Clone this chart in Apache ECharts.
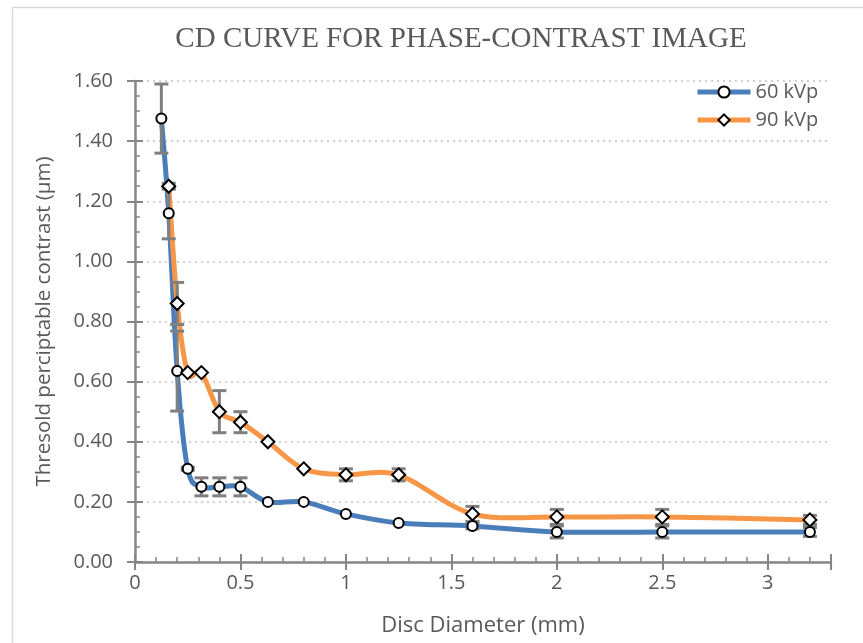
<!DOCTYPE html>
<html>
<head>
<meta charset="utf-8">
<script src="https://cdn.jsdelivr.net/npm/echarts@6/dist/echarts.min.js"></script>
<style>
  html, body { margin: 0; padding: 0; background: #fff; }
  #main { width: 863px; height: 643px; }
</style>
</head>
<body>
<div id="main"></div>
<script>
// disc diameter (mm) and threshold contrast
var diam60 = [0.125, 0.16, 0.2, 0.25, 0.315, 0.4, 0.5, 0.63, 0.8, 1.0, 1.25, 1.6, 2.0, 2.5, 3.2];
var val60  = [1.475, 1.16, 0.635, 0.31, 0.25, 0.25, 0.25, 0.20, 0.20, 0.16, 0.13, 0.12, 0.10, 0.10, 0.10];
var err60  = [0.115, 0.085, 0.133, 0.005, 0.03, 0.03, 0.03, 0, 0, 0, 0, 0.01, 0.02, 0.02, 0.015];

var diam90 = [0.16, 0.2, 0.25, 0.315, 0.4, 0.5, 0.63, 0.8, 1.0, 1.25, 1.6, 2.0, 2.5, 3.2];
var val90  = [1.25, 0.86, 0.63, 0.63, 0.50, 0.465, 0.40, 0.31, 0.29, 0.29, 0.16, 0.15, 0.15, 0.14];
var err90  = [0.01, 0.07, 0, 0, 0.07, 0.035, 0, 0, 0.02, 0.02, 0.025, 0.025, 0.025, 0.015];

var blue = '#4a7ebb', orange = '#f79646';

var myChart = echarts.init(document.getElementById('main'));

function pairs(xs, ys) {
    var res = [];
    for (var i = 0; i < xs.length; i++) res.push([xs[i], ys[i]]);
    return res;
}
function errRows(xs, ys, es) {
    var res = [];
    for (var i = 0; i < xs.length; i++) {
        if (es[i] > 0) res.push([xs[i], ys[i] - es[i], ys[i] + es[i]]);
    }
    return res;
}

var errData = errRows(diam60, val60, err60).concat(errRows(diam90, val90, err90));

function renderErr(params, api) {
    var lo = api.coord([api.value(0), api.value(1)]);
    var hi = api.coord([api.value(0), api.value(2)]);
    var half = 7;
    var st = { stroke: '#808080', lineWidth: 3 };
    return {
        type: 'group',
        children: [
            { type: 'line', shape: { x1: lo[0], y1: lo[1], x2: hi[0], y2: hi[1] }, style: st },
            { type: 'line', shape: { x1: lo[0] - half, y1: lo[1], x2: lo[0] + half, y2: lo[1] }, style: st },
            { type: 'line', shape: { x1: hi[0] - half, y1: hi[1], x2: hi[0] + half, y2: hi[1] }, style: st }
        ]
    };
}

// spreadsheet-style smoothed line: one bezier per segment, catmull-rom controls
function curveRenderer(xs, ys, color) {
    return function (params, api) {
        var i = params.dataIndex;
        var n = xs.length;
        if (i >= n - 1) return;
        var p = function (k) {
            k = Math.max(0, Math.min(n - 1, k));
            return api.coord([xs[k], ys[k]]);
        };
        var p0 = p(i - 1), p1 = p(i), p2 = p(i + 1), p3 = p(i + 2);
        var t = 1 / 6;
        return {
            type: 'bezierCurve',
            shape: {
                x1: p1[0], y1: p1[1], x2: p2[0], y2: p2[1],
                cpx1: p1[0] + (p2[0] - p0[0]) * t, cpy1: p1[1] + (p2[1] - p0[1]) * t,
                cpx2: p2[0] - (p3[0] - p1[0]) * t, cpy2: p2[1] - (p3[1] - p1[1]) * t
            },
            style: { stroke: color, lineWidth: 5, fill: null, lineCap: 'round' }
        };
    };
}

var axisGray = '#868686';
var textGray = '#595959';
var fontFam = '"Open Sans", sans-serif';

var option = {
    animation: false,
    graphic: [{
        type: 'rect',
        left: 10, top: 5,
        shape: { width: 880, height: 680 },
        style: { fill: 'none', stroke: '#d9d9d9', lineWidth: 1.5 },
        silent: true
    }],
    title: {
        text: 'CD CURVE FOR PHASE-CONTRAST IMAGE',
        left: 456, top: 20, textAlign: 'center',
        textStyle: { fontFamily: '"Liberation Serif", serif', fontWeight: 'normal', fontSize: 29, color: textGray }
    },
    legend: {
        top: 82, left: 695, padding: 0,
        orient: 'vertical',
        itemWidth: 53, itemHeight: 14, itemGap: 8,
        textStyle: { fontFamily: fontFam, fontSize: 20, color: textGray },
        data: [
            { name: '60 kVp', lineStyle: { color: blue, width: 5, opacity: 1 } },
            { name: '90 kVp', lineStyle: { color: orange, width: 5, opacity: 1 } }
        ]
    },
    grid: { left: 135, right: 32, top: 81, bottom: 81 },
    xAxis: [{
        type: 'value', min: 0, max: 3.3, interval: 0.5,
        name: 'Disc Diameter (mm)', nameLocation: 'middle', nameGap: 53,
        nameTextStyle: { fontFamily: fontFam, fontSize: 22, color: textGray },
        axisLine: { show: true, lineStyle: { color: axisGray, width: 2.5 } },
        axisTick: { show: true, inside: true, length: 8, lineStyle: { color: axisGray, width: 2 } },
        minorTick: { show: true, splitNumber: 5, length: 5, lineStyle: { color: axisGray, width: 1.5 } },
        axisLabel: {
            fontFamily: fontFam, fontSize: 20, color: textGray, margin: 11,
            showMaxLabel: false,
            formatter: function (v) { return String(v); }
        },
        splitLine: { show: false }
    }, {
        type: 'value', min: 0, max: 3.3, interval: 0.5, position: 'bottom',
        axisLine: { show: false },
        axisTick: { show: true, inside: false, length: 8, lineStyle: { color: axisGray, width: 2 } },
        axisLabel: { show: false },
        splitLine: { show: false }
    }],
    yAxis: [{
        type: 'value', min: 0, max: 1.6, interval: 0.2,
        name: 'Thresold perciptable contrast (µm)', nameLocation: 'middle', nameGap: 80,
        nameTextStyle: { fontFamily: fontFam, fontSize: 20.5, color: textGray },
        axisLine: { show: true, lineStyle: { color: axisGray, width: 2.5 } },
        axisTick: { show: true, inside: true, length: 8, lineStyle: { color: axisGray, width: 2 } },
        minorTick: { show: true, splitNumber: 4, length: 5, lineStyle: { color: axisGray, width: 1.5 } },
        axisLabel: {
            fontFamily: fontFam, fontSize: 20, color: textGray, margin: 22,
            formatter: function (v) { return v.toFixed(2); }
        },
        splitLine: { show: true, lineStyle: { color: '#d0d0d0', width: 2, type: [2, 4] } }
    }, {
        type: 'value', min: 0, max: 1.6, interval: 0.2, position: 'left',
        axisLine: { show: false },
        axisTick: { show: true, inside: false, length: 8, lineStyle: { color: axisGray, width: 2 } },
        axisLabel: { show: false },
        splitLine: { show: false }
    }],
    series: [{
        name: 'curve60',
        type: 'custom',
        renderItem: curveRenderer(diam60, val60, blue),
        data: pairs(diam60, val60),
        encode: { x: 0, y: 1 },
        silent: true,
        z: 2
    }, {
        name: 'curve90',
        type: 'custom',
        renderItem: curveRenderer(diam90, val90, orange),
        data: pairs(diam90, val90),
        encode: { x: 0, y: 1 },
        silent: true,
        z: 2
    }, {
        name: 'err',
        type: 'custom',
        renderItem: renderErr,
        data: errData,
        encode: { x: 0, y: [1, 2] },
        silent: true,
        z: 3
    }, {
        name: '60 kVp',
        type: 'line',
        data: pairs(diam60, val60),
        symbol: 'circle', symbolSize: 10,
        lineStyle: { color: blue, width: 5, opacity: 0 },
        itemStyle: { color: '#fff', borderColor: '#000', borderWidth: 2 },
        z: 4
    }, {
        name: '90 kVp',
        type: 'line',
        data: pairs(diam90, val90),
        symbol: 'diamond', symbolSize: 13,
        lineStyle: { color: orange, width: 5, opacity: 0 },
        itemStyle: { color: '#fff', borderColor: '#000', borderWidth: 2 },
        z: 4
    }]
};
myChart.setOption(option);
</script>
</body>
</html>
